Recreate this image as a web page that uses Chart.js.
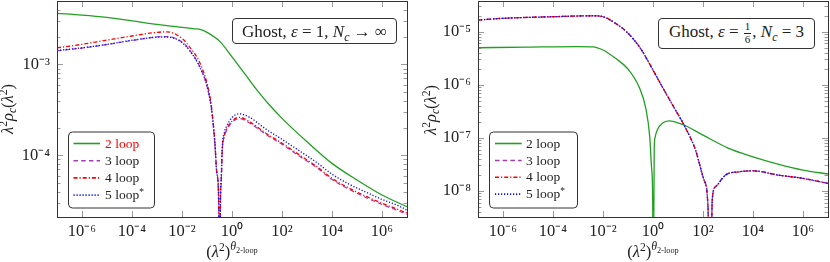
<!DOCTYPE html>
<html><head><meta charset="utf-8">
<script src="https://cdn.jsdelivr.net/npm/chart.js@4/dist/chart.umd.min.js"></script>
<style>
html,body{margin:0;padding:0;background:#fff;}
#wrap{position:relative;width:830px;height:262px;overflow:hidden;font-family:'Liberation Serif','Times New Roman',serif;color:#222;}
.cv{position:absolute;top:0;}
.ov{position:absolute;white-space:nowrap;line-height:1;font-size:16.5px;}
.sup{font-size:70%;vertical-align:0.5em;line-height:0;}
.sub{font-size:70%;vertical-align:-0.3em;line-height:0;}
.sup2{font-size:72%;vertical-align:0.6em;line-height:0;}
.sub2{font-size:70%;vertical-align:-0.35em;line-height:0;}
.yt{transform:translate(-50%,-50%) rotate(-90deg);}
.xt{transform:translateX(-50%);}
.box{position:absolute;box-sizing:border-box;border:1px solid #333;border-radius:4px;background:#fff;display:flex;align-items:center;justify-content:center;font-size:17px;white-space:nowrap;line-height:1;}
.frac{display:inline-flex;flex-direction:column;align-items:center;font-size:11px;vertical-align:middle;line-height:1.05;margin:0 1px;}
.frac span:first-child{border-bottom:0.8px solid #222;padding:0 1px;}
.leg{position:absolute;font-size:13.5px;line-height:1;white-space:nowrap;transform:translateY(-50%);}
</style></head>
<body><div id="wrap">
<canvas id="cL" class="cv" width="415" height="262" style="left:0;width:415px;height:262px"></canvas>
<canvas id="cR" class="cv" width="415" height="262" style="left:415px;width:415px;height:262px"></canvas>

<div class="ov yt" style="left:8px;top:109px"><i>λ</i><span class="sup">2</span><i>ρ</i><span class="sub"><i>c</i></span>(<i>λ</i><span class="sup">2</span>)</div>
<div class="ov xt" style="left:232px;top:244px">(<i>λ</i><span class="sup">2</span>)<span class="sup2"><i>θ</i><span class="sub2">2-loop</span></span></div>
<div class="ov yt" style="left:431px;top:110px"><i>λ</i><span class="sup">2</span><i>ρ</i><span class="sub"><i>c</i></span>(<i>λ</i><span class="sup">2</span>)</div>
<div class="ov xt" style="left:653px;top:244px">(<i>λ</i><span class="sup">2</span>)<span class="sup2"><i>θ</i><span class="sub2">2-loop</span></span></div>

<div class="box" style="left:232px;top:18px;width:165px;height:26px"><span>Ghost,&nbsp;<i>ε</i>&nbsp;=&nbsp;1,&nbsp;<i>N</i><span class="sub"><i>c</i></span>&nbsp;→&nbsp;∞</span></div>
<div class="box" style="left:658px;top:18px;width:157px;height:31px"><span>Ghost,&nbsp;<i>ε</i>&nbsp;=&nbsp;<span class="frac"><span>1</span><span>6</span></span>,&nbsp;<i>N</i><span class="sub"><i>c</i></span>&nbsp;=&nbsp;3</span></div>

<div class="leg" style="left:105px;top:143.5px;color:#ff0000">2 loop</div>
<div class="leg" style="left:105px;top:160.7px">3 loop</div>
<div class="leg" style="left:105px;top:177.9px">4 loop</div>
<div class="leg" style="left:105px;top:195.1px">5 loop<span class="sup">*</span></div>
<div class="leg" style="left:526px;top:143.5px">2 loop</div>
<div class="leg" style="left:526px;top:160.5px">3 loop</div>
<div class="leg" style="left:526px;top:177.3px">4 loop</div>
<div class="leg" style="left:526px;top:194.1px">5 loop<span class="sup">*</span></div>
</div>
<script>
// ---------- data ----------
const seriesNames = ['2 loop', '3 loop', '4 loop', '5 loop*'];
const xTickValues = [1e-6, 1e-4, 1e-2, 1, 1e2, 1e4, 1e6];
const xRange = [1e-7, 1e7];
const yRangeLeft = [2.1e-5, 4.97e-3];
const yRangeRight = [3.2e-9, 3.8e-5];

// Left panel: Ghost, eps = 1, Nc -> inf
const L2x = [1e-7,1e-6,1e-5,1e-4,1e-3,1e-2,3.16e-2,5.62e-2,1e-1,3.16e-1,1,3.16,10,31.6,100,1e3,1e4,1e5,1e6,1e7];
const L2y = [3.63e-3,3.48e-3,3.28e-3,3.01e-3,2.75e-3,2.55e-3,2.46e-3,2.41e-3,2.25e-3,1.80e-3,1.21e-3,7.96e-4,5.22e-4,3.57e-4,2.55e-4,1.41e-4,8.16e-5,5.35e-5,3.66e-5,2.72e-5];
const L3x = [1e-7,1e-6,1e-5,1e-4,1e-3,2.4e-3,1e-2,2e-2,5e-2,1e-1,0.151,0.204,0.251,0.295,0.316,0.339,0.372,0.407,0.5,0.589,1,2,5,23.4,100,500,2500,1e4,5e4,2.5e5,1e6,5e6,1e7];
const L3y = [1.41e-3,1.51e-3,1.65e-3,1.83e-3,2.00e-3,2.02e-3,1.76e-3,1.44e-3,9.58e-4,5.77e-4,3.23e-4,1.41e-4,6.1e-5,2.8e-5,1e-7,1.94e-5,5.2e-5,1.1e-4,1.62e-4,1.84e-4,2.31e-4,2.54e-4,2.27e-4,1.69e-4,1.32e-4,9.8e-5,7.3e-5,5.42e-5,4.21e-5,3.4e-5,2.88e-5,2.43e-5,2.24e-5];
const L4x = [1e-7,1e-6,1e-5,1e-4,1e-3,2.4e-3,1e-2,2e-2,5e-2,1e-1,0.151,0.204,0.251,0.295,0.316,0.339,0.372,0.407,0.5,0.589,1,2,5,23.4,100,500,2500,1e4,5e4,2.5e5,1e6,5e6,1e7];
const L4y = [1.52e-3,1.66e-3,1.85e-3,2.05e-3,2.25e-3,2.28e-3,1.93e-3,1.56e-3,1.06e-3,6.18e-4,3.42e-4,1.47e-4,6.34e-5,2.85e-5,1e-7,2.0e-5,5.4e-5,1.14e-4,1.67e-4,1.90e-4,2.38e-4,2.62e-4,2.34e-4,1.74e-4,1.36e-4,1.01e-4,7.5e-5,5.59e-5,4.34e-5,3.51e-5,2.97e-5,2.51e-5,2.31e-5];
const L5x = [1e-7,1e-6,1e-5,1e-4,1e-3,2.4e-3,1e-2,2e-2,5e-2,1e-1,0.151,0.204,0.251,0.295,0.316,0.339,0.372,0.407,0.5,0.589,1,2,5,23.4,100,500,2500,1e4,5e4,2.5e5,1e6,5e6,1e7];
const L5y = [1.42e-3,1.52e-3,1.66e-3,1.84e-3,1.99e-3,2.0e-3,1.74e-3,1.42e-3,9.5e-4,5.75e-4,3.22e-4,1.42e-4,6.2e-5,2.9e-5,1e-7,2.1e-5,5.8e-5,1.22e-4,1.8e-4,2.05e-4,2.6e-4,2.86e-4,2.62e-4,1.93e-4,1.5e-4,1.12e-4,8.3e-5,6.2e-5,4.8e-5,3.9e-5,3.28e-5,2.76e-5,2.5e-5];

// Right panel: Ghost, eps = 1/6, Nc = 3
const R2x = [1e-7,1e-5,1e-3,3.98e-3,1e-2,3.16e-2,1e-1,0.275,0.513,0.741,0.891,0.977,1,1.12,1.2,1.48,2.34,4.37,17.4,100,1e3,1e4,1e5,1e6,1e7];
const R2y = [4.99e-6,5.14e-6,5.26e-6,5.2e-6,4.52e-6,3.15e-6,1.98e-6,9.16e-7,3.63e-7,1.04e-7,2.46e-8,5e-9,1e-11,6e-8,1.0e-7,1.4e-7,1.87e-7,2.09e-7,1.74e-7,1.12e-7,6.4e-8,4.38e-8,3.19e-8,2.46e-8,2.07e-8];
const R3x = [1e-7,1e-6,1e-4,3.98e-3,1e-2,3.16e-2,1e-1,0.316,1,2.34,7.94,17.4,50.1,110,158,195,234,316,794,2750,1e4,1e5,1e6,1e7];
const R3y = [1.66e-5,1.79e-5,1.92e-5,2.00e-5,1.92e-5,1.44e-5,9.4e-6,4.84e-6,1.89e-6,9.16e-7,3.33e-7,1.74e-7,5.86e-8,1.59e-8,5e-9,1e-11,6.7e-9,1.19e-8,1.98e-8,2.28e-8,2.38e-8,1.98e-8,1.71e-8,1.38e-8];
const R4x = [1e-7,1e-6,1e-4,3.98e-3,1e-2,3.16e-2,1e-1,0.316,1,2.34,7.94,17.4,50.1,110,158,195,234,316,794,2750,1e4,1e5,1e6,1e7];
const R4y = [1.66e-5,1.79e-5,1.92e-5,2.00e-5,1.92e-5,1.44e-5,9.4e-6,4.84e-6,1.89e-6,9.16e-7,3.33e-7,1.74e-7,5.86e-8,1.59e-8,5e-9,1e-11,6.7e-9,1.19e-8,1.98e-8,2.28e-8,2.38e-8,1.98e-8,1.71e-8,1.38e-8];
const R5x = [1e-7,1e-6,1e-4,3.98e-3,1e-2,3.16e-2,1e-1,0.316,1,2.34,7.94,17.4,50.1,110,158,195,234,316,794,2750,1e4,1e5,1e6,1e7];
const R5y = [1.66e-5,1.79e-5,1.92e-5,2.00e-5,1.92e-5,1.44e-5,9.4e-6,4.84e-6,1.89e-6,9.16e-7,3.33e-7,1.74e-7,5.86e-8,1.59e-8,5e-9,1e-11,6.7e-9,1.19e-8,1.98e-8,2.28e-8,2.38e-8,1.98e-8,1.71e-8,1.38e-8];

// ---------- styling ----------
const FONT = "'Liberation Serif','Times New Roman',serif";
const TICKSIZE = 16.5;
const styles = [
  {borderColor:'#22a022', borderDash:[], borderWidth:1.3},
  {borderColor:'#a33cb5', borderDash:[4.5,3.2], borderWidth:1.2},
  {borderColor:'#ff0000', borderDash:[4,2,1.2,2], borderWidth:1.3},
  {borderColor:'#1010ff', borderDash:[1.2,1.8], borderWidth:1.4}
];
const SUP = {'-':'⁻','0':'⁰','1':'¹','2':'²','3':'³','4':'⁴','5':'⁵','6':'⁶','7':'⁷','8':'⁸','9':'⁹'};
function isPow10(v){ const l=Math.log10(v); return Math.abs(l-Math.round(l))<1e-9; }
function pow10Label(v){ const e=String(Math.round(Math.log10(v))); return '10'+e.split('').map(c=>SUP[c]).join(''); }
function logTicks(min,max){
  const t=[];
  for(let e=Math.floor(Math.log10(min)); e<=Math.ceil(Math.log10(max)); e++){
    for(let m=1;m<=9;m++){ const v=m*Math.pow(10,e); if(v>=min*0.9999 && v<=max*1.0001) t.push({value:v, major:m===1}); }
  }
  return t;
}
function rr(ctx,x,y,w,h,r){
  ctx.beginPath(); ctx.moveTo(x+r,y); ctx.lineTo(x+w-r,y); ctx.arcTo(x+w,y,x+w,y+r,r);
  ctx.lineTo(x+w,y+h-r); ctx.arcTo(x+w,y+h,x+w-r,y+h,r); ctx.lineTo(x+r,y+h);
  ctx.arcTo(x,y+h,x,y+h-r,r); ctx.lineTo(x,y+r); ctx.arcTo(x,y,x+r,y,r); ctx.closePath();
}
function decor(leg){
  return {
    id:'decor',
    afterDatasetsDraw(chart){
      const ctx=chart.ctx; ctx.save();
      rr(ctx, leg.x0+0.5, leg.y0+0.5, leg.w, leg.h, 4);
      ctx.setLineDash([]); ctx.fillStyle='#fff'; ctx.fill();
      ctx.strokeStyle='#333'; ctx.lineWidth=1; ctx.stroke();
      chart.data.datasets.forEach((ds,i)=>{
        const y=leg.rows[i];
        ctx.beginPath(); ctx.setLineDash(ds.borderDash||[]);
        ctx.strokeStyle=ds.borderColor; ctx.lineWidth=ds.borderWidth+0.3;
        ctx.moveTo(leg.s0,y); ctx.lineTo(leg.s1,y); ctx.stroke();
      });
      ctx.restore();
    },
    afterDraw(chart){
      const {ctx, chartArea:a, scales:{x,y}} = chart;
      ctx.save(); ctx.setLineDash([]);
      ctx.strokeStyle='#808080'; ctx.lineWidth=0.8; ctx.beginPath();
      x.ticks.forEach(t=>{ const px=Math.round(x.getPixelForValue(t.value))+0.5;
        ctx.moveTo(px,a.bottom); ctx.lineTo(px,a.bottom-6); ctx.moveTo(px,a.top); ctx.lineTo(px,a.top+6); });
      y.ticks.forEach(t=>{ const py=Math.round(y.getPixelForValue(t.value))+0.5; const L=t.major?6:3.5;
        ctx.moveTo(a.left,py); ctx.lineTo(a.left+L,py); ctx.moveTo(a.right,py); ctx.lineTo(a.right-L,py); });
      ctx.stroke();
      ctx.strokeStyle='#333'; ctx.lineWidth=1;
      ctx.strokeRect(a.left+0.5, a.top+0.5, a.right-a.left, a.bottom-a.top);
      ctx.restore();
    }
  };
}
function makeChart(id, xs, ys, yRange, yAxisW, padRight, leg){
  const datasets = xs.map((xa,i)=>({
    label: seriesNames[i],
    data: xa.map((xv,k)=>({x:xv, y:ys[i][k]})),
    borderColor: styles[i].borderColor, borderDash: styles[i].borderDash, borderWidth: styles[i].borderWidth,
    order: 3-i, pointRadius:0, pointHoverRadius:0, fill:false, cubicInterpolationMode:'monotone'
  }));
  return new Chart(document.getElementById(id), {
    type:'line',
    data:{datasets},
    options:{
      responsive:false, animation:false, devicePixelRatio:1, events:[],
      layout:{padding:{top:1,right:padRight,left:0,bottom:0}},
      plugins:{legend:{display:false}, tooltip:{enabled:false}},
      scales:{
        x:{type:'logarithmic', min:xRange[0], max:xRange[1],
          grid:{display:false, drawTicks:false}, border:{display:false},
          afterBuildTicks: s=>{ s.ticks = xTickValues.map(v=>({value:v, major:true})); },
          afterFit: s=>{ s.height = 45; s.paddingLeft = 0; s.paddingRight = 0; },
          ticks:{autoSkip:false, maxRotation:0, minRotation:0, padding:5, color:'#222', font:{size:TICKSIZE, family:FONT}, callback:v=>pow10Label(v)}
        },
        y:{type:'logarithmic', min:yRange[0], max:yRange[1],
          grid:{display:false, drawTicks:false}, border:{display:false},
          afterBuildTicks: s=>{ s.ticks = logTicks(yRange[0], yRange[1]); },
          afterFit: s=>{ s.width = yAxisW; s.paddingTop = 0; s.paddingBottom = 0; },
          ticks:{autoSkip:false, padding:7, color:'#222', font:{size:TICKSIZE, family:FONT}, callback:v=> isPow10(v)? pow10Label(v) : ''}
        }
      }
    },
    plugins:[decor(leg)]
  });
}
makeChart('cL', [L2x,L3x,L4x,L5x], [L2y,L3y,L4y,L5y], yRangeLeft, 57, 8,
  {x0:68, y0:131.5, w:86, h:76, s0:73.5, s1:100, rows:[143.5,160.7,177.9,195.1]});
makeChart('cR', [R2x,R3x,R4x,R5x], [R2y,R3y,R4y,R5y], yRangeRight, 63, 2,
  {x0:74, y0:131.5, w:88, h:76, s0:80, s1:106.7, rows:[143.5,160.5,177.3,194.1]});
</script>
</body></html>
